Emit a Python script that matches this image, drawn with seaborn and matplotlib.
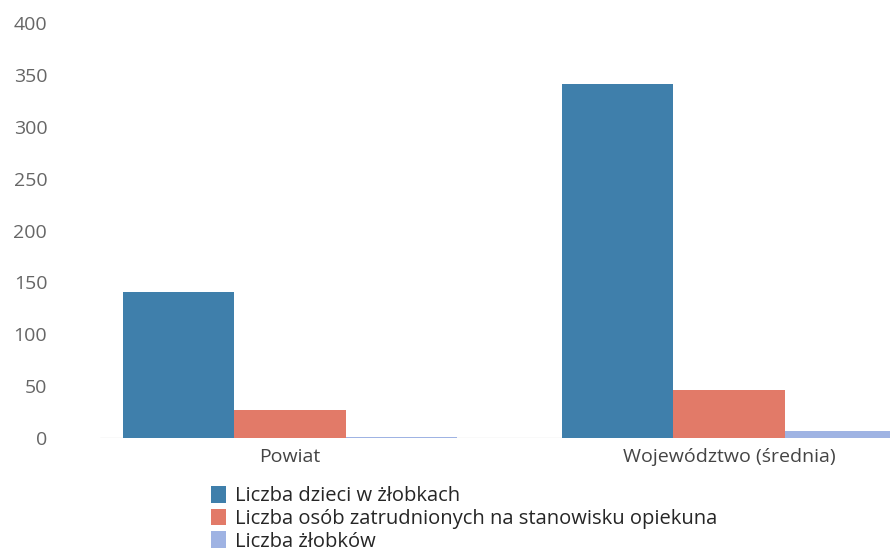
import pandas as pd
import matplotlib.pyplot as plt
import seaborn as sns

# Values
categories = ['Powiat', 'Województwo (średnia)']
series = [
    'Liczba dzieci w żłobkach',
    'Liczba osób zatrudnionych na stanowisku opiekuna',
    'Liczba żłobków',
]
dzieci = [141, 341]
opiekunowie = [27, 46]
zlobki = [1, 7]
colors = ['#3f7fab', '#e27a68', '#9fb3e3']

rows = []
for name, vals in zip(series, [dzieci, opiekunowie, zlobki]):
    for cat, v in zip(categories, vals):
        rows.append({'kategoria': cat, 'seria': name, 'wartosc': v})
df = pd.DataFrame(rows)

sns.set_style('white')
plt.rcParams['font.family'] = ['Open Sans', 'DejaVu Sans']

fig = plt.figure(figsize=(8.9, 5.6), dpi=100)
ax = fig.add_axes([100 / 890, 1 - 438 / 560, 790 / 890, 415 / 560])

sns.barplot(
    data=df,
    x='kategoria',
    y='wartosc',
    hue='seria',
    hue_order=series,
    palette=colors,
    width=0.76,
    ax=ax,
    saturation=1,
    linewidth=0,
)

ax.set_xlim(-0.433, 1.367)
ax.set_ylim(0, 400)
ax.set_yticks(range(0, 401, 50))
ax.set_xlabel('')
ax.set_ylabel('')
ax.axhline(0, color='#e3e3e3', lw=1, zorder=0)
for s in ax.spines.values():
    s.set_visible(False)
ax.tick_params(axis='y', length=0, pad=38, labelsize=14, labelcolor='#666666')
ax.tick_params(axis='x', length=0, pad=7, labelsize=14, labelcolor='#444444')
ax.grid(False)

handles, labels = ax.get_legend_handles_labels()
ax.get_legend().remove()
fig.legend(
    handles, labels,
    loc='upper left',
    bbox_to_anchor=(211 / 890, 1 - 486 / 560),
    frameon=False,
    fontsize=14.5,
    handlelength=0.75,
    handleheight=0.9,
    handletextpad=0.45,
    labelspacing=0.12,
    borderaxespad=0,
    borderpad=0,
)

fig.savefig('out.png', dpi=100)
plt.close(fig)
